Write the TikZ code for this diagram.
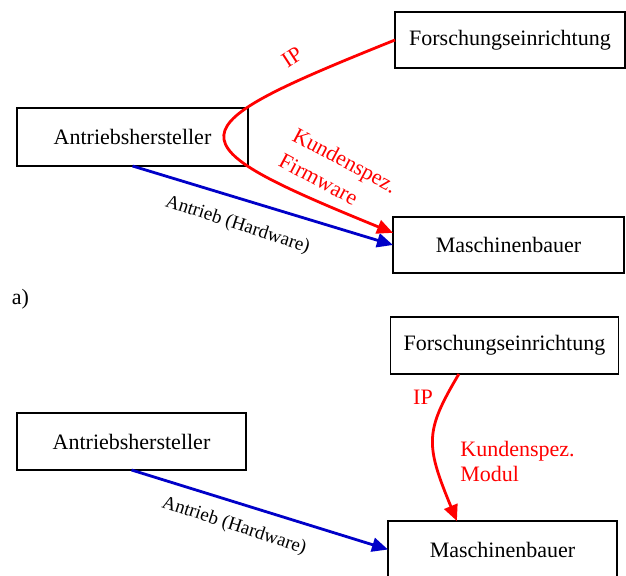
\documentclass[tikz,border=0pt]{standalone}
\usepackage{fontspec}
\setmainfont{Liberation Serif}
\usetikzlibrary{arrows.meta}
\definecolor{arrowblue}{RGB}{0,0,200}
\definecolor{arrowred}{RGB}{255,0,0}
\begin{document}
\begin{tikzpicture}[x=0.5pt,y=-0.5pt,
  box/.style={draw=black, line width=0.9pt, inner sep=0pt, outer sep=0pt, font=\fontsize{11}{13}\selectfont},
  redflow/.style={draw=arrowred, line width=1.4pt, -{Triangle[length=8pt,width=7pt]}},
  blueflow/.style={draw=arrowblue, line width=1.4pt, -{Triangle[length=8pt,width=7pt]}},
  redlabel/.style={text=arrowred, inner sep=0pt, font=\fontsize{11}{12.5}\selectfont},
  hwlabel/.style={inner sep=0pt, font=\fontsize{9.5}{11}\selectfont}]
\useasboundingbox (0,0) rectangle (626,576);
% part a
\node[box, minimum width=115pt, minimum height=28pt] (f1) at (510,40) {Forschungseinrichtung};
\node[box, minimum width=115.5pt, minimum height=29pt] (ah1) at (132.5,137) {Antriebshersteller};
\node[box, minimum width=115.5pt, minimum height=28pt] (mb1) at (508.5,245) {Maschinenbauer};
\draw[blueflow] (ah1.south) -- (mb1.west);
\draw[redflow] (f1.west) .. controls (171,130) and (168,141) .. (mb1.174);
\node[redlabel, rotate=33] (ip1) at (292,57.5) {IP};
\node[redlabel, rotate=-28, align=left, anchor=north west] (ks1) at (298,126) {Kundenspez.\\[2pt]Firmware};
\node[hwlabel, rotate=-18] (hw1) at (237.5,225) {Antrieb (Hardware)};
\node[inner sep=0pt, font=\fontsize{11}{13}\selectfont] (lbla) at (20.5,299) {a)};
% part b
\node[box, minimum width=114pt, minimum height=28.5pt] (f2) at (504.5,345.5) {Forschungseinrichtung};
\node[box, minimum width=114.5pt, minimum height=28.5pt] (ah2) at (131.5,441.5) {Antriebshersteller};
\node[box, minimum width=114.5pt, minimum height=28.5pt] (mb2) at (502.5,549.5) {Maschinenbauer};
\draw[blueflow] (ah2.south) -- (mb2.west);
\draw[redflow] (f2.212) .. controls (425,431) and (425,444) .. (mb2.148);
\node[redlabel] (ip2) at (423,397) {IP};
\node[redlabel, align=left, anchor=north west] (ks2) at (460,440.5) {Kundenspez.\\Modul};
\node[hwlabel, rotate=-18] (hw2) at (234,526) {Antrieb (Hardware)};
\end{tikzpicture}
\end{document}
